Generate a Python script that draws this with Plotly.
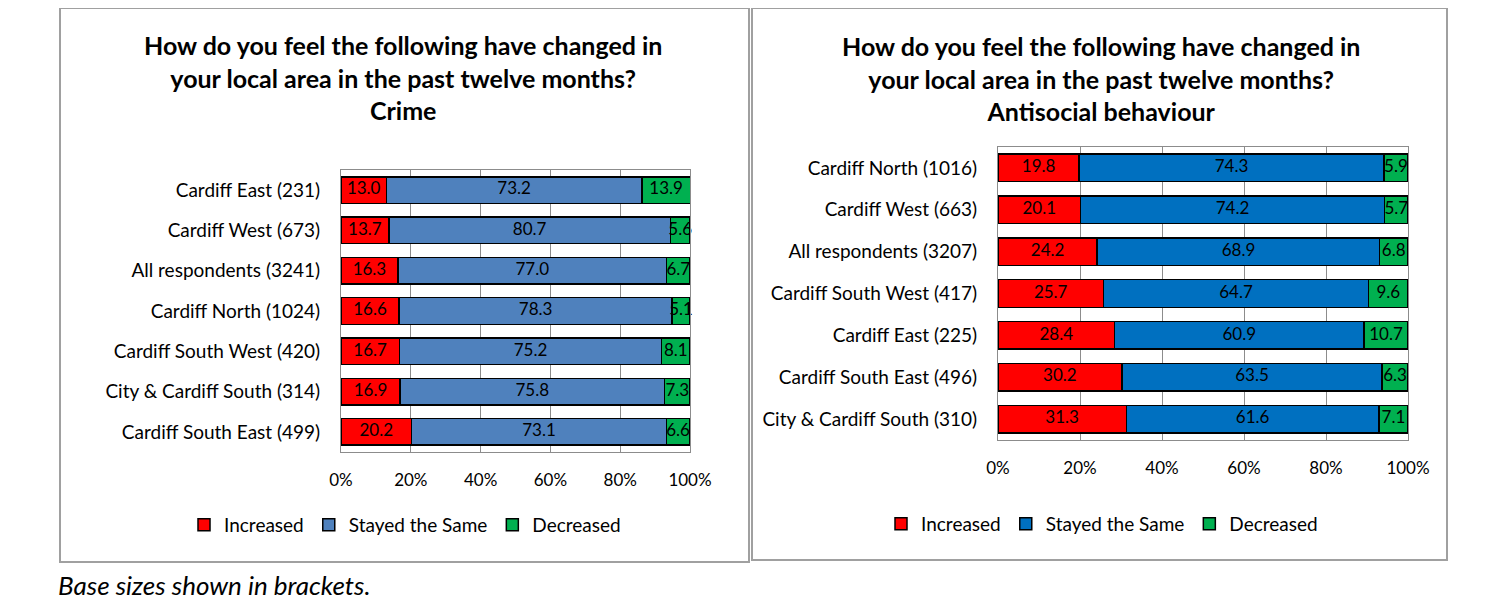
import plotly.graph_objects as go

# ---- Data ----
crime_cats = ["Cardiff East (231)", "Cardiff West (673)", "All respondents (3241)",
              "Cardiff North (1024)", "Cardiff South West (420)",
              "City & Cardiff South (314)", "Cardiff South East (499)"]
crime_increased = [13.0, 13.7, 16.3, 16.6, 16.7, 16.9, 20.2]
crime_same = [73.2, 80.7, 77.0, 78.3, 75.2, 75.8, 73.1]
crime_decreased = [13.9, 5.6, 6.7, 5.1, 8.1, 7.3, 6.6]

asb_cats = ["Cardiff North (1016)", "Cardiff West (663)", "All respondents (3207)",
            "Cardiff South West (417)", "Cardiff East (225)",
            "Cardiff South East (496)", "City & Cardiff South (310)"]
asb_increased = [19.8, 20.1, 24.2, 25.7, 28.4, 30.2, 31.3]
asb_same = [74.3, 74.2, 68.9, 64.7, 60.9, 63.5, 61.6]
asb_decreased = [5.9, 5.7, 6.8, 9.6, 10.7, 6.3, 7.1]

series_names = ["Increased", "Stayed the Same", "Decreased"]
tick_vals = [0, 20, 40, 60, 80, 100]
tick_text = ["0%", "20%", "40%", "60%", "80%", "100%"]

FONT = "Lato, 'Open Sans', sans-serif"
left_colors = ["#FF0000", "#4F81BD", "#00B050"]
right_colors = ["#FF0000", "#0070C0", "#00B050"]

fig = go.Figure()

def add_panel(cats, vals, colors, xa, ya, legend):
    starts = [0.0] * len(cats)
    for name, v, c in zip(series_names, vals, colors):
        fig.add_trace(go.Bar(
            y=cats, x=v, name=name, orientation="h",
            xaxis=xa, yaxis=ya, legend=legend,
            marker=dict(color=c, line=dict(color="black", width=1.5)),
            width=0.66, hoverinfo="x+y+name",
        ))
        mids = [s + x / 2 for s, x in zip(starts, v)]
        fig.add_trace(go.Scatter(
            y=cats, x=mids, mode="text", text=[f"{x:.1f}" for x in v],
            textposition="middle center", xaxis=xa, yaxis=ya,
            textfont=dict(color="black", size=17, family=FONT),
            showlegend=False, hoverinfo="skip", cliponaxis=False,
        ))
        starts = [s + x for s, x in zip(starts, v)]

add_panel(crime_cats, [crime_increased, crime_same, crime_decreased], left_colors, "x", "y", "legend")
add_panel(asb_cats, [asb_increased, asb_same, asb_decreased], right_colors, "x2", "y2", "legend2")

W, H = 1500, 600
OFF = 8  # page offset of the figure
def px(x): return (x - OFF) / W
def py(y): return 1 - (y - OFF) / H

axis_common = dict(range=[0, 100], tickvals=tick_vals, ticktext=tick_text,
                   showgrid=True, gridcolor="#8c8c8c", gridwidth=1,
                   showline=True, linecolor="#8c8c8c", linewidth=1, mirror=True,
                   ticks="outside", ticklen=13, tickcolor="rgba(0,0,0,0)",
                   tickfont=dict(size=17, family=FONT, color="black"),
                   zeroline=False, fixedrange=True, automargin=False)
yaxis_common = dict(autorange="reversed", showgrid=False,
                    showline=True, linecolor="#8c8c8c", linewidth=1, mirror=True,
                    ticks="outside", ticklen=16, tickcolor="rgba(0,0,0,0)",
                    tickfont=dict(size=19, family=FONT, color="black"),
                    automargin=False, fixedrange=True)

legend_common = dict(orientation="h", xanchor="center", yanchor="middle",
                     font=dict(size=19, family=FONT, color="black"),
                     bgcolor="rgba(0,0,0,0)", traceorder="normal",
                     itemwidth=30, tracegroupgap=0)

fig.update_layout(
    width=W, height=H, margin=dict(l=0, r=0, t=0, b=0, autoexpand=False),
    autosize=False,
    paper_bgcolor="white", plot_bgcolor="white",
    barmode="stack",
    xaxis=dict(domain=[px(341), px(690)], anchor="y", **axis_common),
    yaxis=dict(domain=[py(452), py(170)], anchor="x", **yaxis_common),
    xaxis2=dict(domain=[px(998), px(1408)], anchor="y2", **axis_common),
    yaxis2=dict(domain=[py(440), py(147)], anchor="x2", **yaxis_common),
    legend=dict(x=px(405), y=py(525), **legend_common),
    legend2=dict(x=px(1102), y=py(524), **legend_common),
    showlegend=True,
)

# panel frames
fig.add_shape(type="rect", xref="paper", yref="paper",
              x0=px(60), x1=px(749), y0=py(562), y1=py(8),
              line=dict(color="#a0a0a0", width=2), layer="below")
fig.add_shape(type="rect", xref="paper", yref="paper",
              x0=px(752), x1=px(1447), y0=py(560), y1=py(8),
              line=dict(color="#a0a0a0", width=2), layer="below")

# titles
fig.add_annotation(xref="paper", yref="paper", x=px(403), y=py(77), showarrow=False,
                   text="<b>How do you feel the following have changed in<br>your local area in the past twelve months?<br>Crime</b>",
                   font=dict(size=25, family=FONT, color="black"), align="center",
                   xanchor="center", yanchor="middle")
fig.add_annotation(xref="paper", yref="paper", x=px(1101), y=py(78), showarrow=False,
                   text="<b>How do you feel the following have changed in<br>your local area in the past twelve months?<br>Antisocial behaviour</b>",
                   font=dict(size=25, family=FONT, color="black"), align="center",
                   xanchor="center", yanchor="middle")

# footnote
fig.add_annotation(xref="paper", yref="paper", x=px(56), y=py(585), showarrow=False,
                   text="<i>Base sizes shown in brackets.</i>",
                   font=dict(size=26, family=FONT, color="black"),
                   xanchor="left", yanchor="middle")

fig.write_html("out.html")
